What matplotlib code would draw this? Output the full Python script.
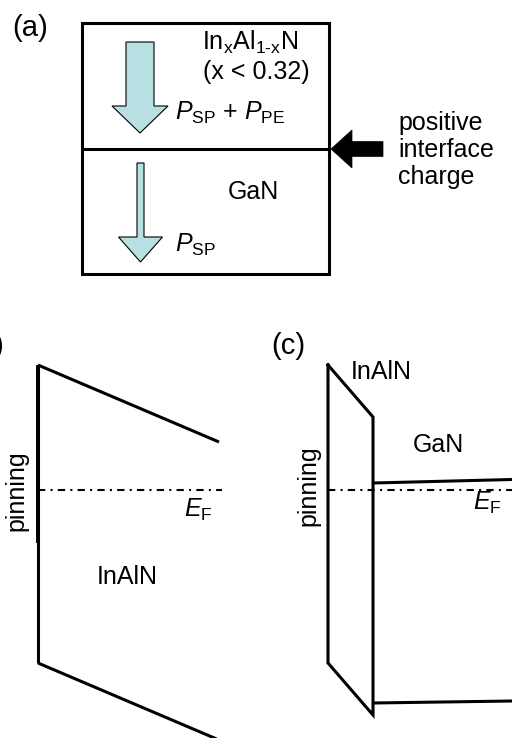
import matplotlib
matplotlib.use('Agg')
import matplotlib.pyplot as plt
from matplotlib.patches import Polygon, Rectangle

plt.rcParams['font.family'] = ['Liberation Sans', 'DejaVu Sans']
plt.rcParams['mathtext.fontset'] = 'custom'
plt.rcParams['mathtext.rm'] = 'Liberation Sans'
plt.rcParams['mathtext.it'] = 'Liberation Sans:italic'

# all positions in pixels of the 512x738 picture (y down)
# panel (a): layer stack
box_a = [82, 23, 329, 274]          # left, top, right, bottom
interface_y = 149
arrow_big = dict(x=140, top=42, shaft=28, head=56, head_y=106, tip=133)
arrow_small = dict(x=140.5, top=163, shaft=7, head=44, head_y=237, tip=262)
charge_arrow = dict(tip=331, neck=352, tail=383, y=149, shaft=15, head=38)

# panel (b): band diagram of InAlN surface
b_left_x = 38
b_cb = ([38, 219], [365, 442])
b_vb = ([38, 219], [663, 740])
b_wall = ([38, 38], [365, 663])
b_ef = ([38, 222], [490, 490])

# panel (c): InAlN/GaN
c_barrier_x = ([328, 328, 373, 373, 328], [365, 663, 715, 417, 365])
c_cb = ([373, 512], [483, 479.5])
c_vb = ([373, 512], [703, 701])
c_ef = ([328, 512], [490, 490])

fig = plt.figure(figsize=(5.12, 7.38), dpi=100)
ax = fig.add_axes([0, 0, 1, 1])
ax.set_xlim(0, 512)
ax.set_ylim(738, 0)
ax.axis('off')

lw = 2.2
fs = 18
fs_lab = 21
fill = '#b8e0e3'

# (a)
ax.add_patch(Rectangle((box_a[0], box_a[1]), box_a[2] - box_a[0], box_a[3] - box_a[1],
                       fill=False, lw=lw, ec='black'))
ax.plot([box_a[0], box_a[2]], [interface_y, interface_y], color='black', lw=lw)


def down_arrow(a):
    x, s, h = a['x'], a['shaft'] / 2, a['head'] / 2
    pts = [(x - s, a['top']), (x + s, a['top']), (x + s, a['head_y']), (x + h, a['head_y']),
           (x, a['tip']), (x - h, a['head_y']), (x - s, a['head_y'])]
    ax.add_patch(Polygon(pts, closed=True, fc=fill, ec='black', lw=0.8))


down_arrow(arrow_big)
down_arrow(arrow_small)

c = charge_arrow
pts = [(c['tip'], c['y']), (c['neck'], c['y'] - c['head'] / 2), (c['neck'], c['y'] - c['shaft'] / 2),
       (c['tail'], c['y'] - c['shaft'] / 2), (c['tail'], c['y'] + c['shaft'] / 2),
       (c['neck'], c['y'] + c['shaft'] / 2), (c['neck'], c['y'] + c['head'] / 2)]
ax.add_patch(Polygon(pts, closed=True, fc='black', ec='black', lw=0.5))

ax.text(12, 28, '(a)', fontsize=fs_lab, va='center', ha='left')
ax.text(250, 42, r'In$_{\mathrm{x}}$Al$_{\mathrm{1\text{-}x}}$N', fontsize=fs, va='center', ha='center')
ax.text(256, 72, '(x < 0.32)', fontsize=fs, va='center', ha='center')
ax.text(175, 113, r'$P_{\mathrm{SP}}$ + $P_{\mathrm{PE}}$', fontsize=fs, va='center', ha='left')
ax.text(253, 192, 'GaN', fontsize=fs, va='center', ha='center')
ax.text(175, 245, r'$P_{\mathrm{SP}}$', fontsize=fs, va='center', ha='left')
ax.text(398, 150, 'positive\ninterface\ncharge', fontsize=fs, va='center', ha='left',
        linespacing=1.15)

# (b)
ax.text(4, 346, '(b)', fontsize=fs_lab, va='center', ha='right')
ax.plot(*b_cb, color='black', lw=lw, solid_capstyle='butt')
ax.plot(*b_vb, color='black', lw=lw, solid_capstyle='butt')
ax.plot([b_left_x, b_left_x], [365, 543], color='black', lw=lw + 0.6, solid_capstyle='butt')
ax.plot(*b_wall, color='black', lw=lw, solid_capstyle='butt')
ax.plot(*b_ef, color='black', lw=1.5, ls=(0, (3.5, 2.5, 1, 2.5)))
ax.text(198, 510, r'$E_{\mathrm{F}}$', fontsize=fs, va='center', ha='center')
ax.text(16, 491, 'pinning', fontsize=fs, va='center', ha='center', rotation=90)
ax.text(127, 577, 'InAlN', fontsize=fs, va='center', ha='center')

# (c)
ax.text(288, 346, '(c)', fontsize=fs_lab, va='center', ha='center')
ax.plot(*c_barrier_x, color='black', lw=lw, solid_joinstyle='miter')
ax.plot(*c_cb, color='black', lw=lw, solid_capstyle='butt')
ax.plot(*c_vb, color='black', lw=lw, solid_capstyle='butt')
ax.plot(*c_ef, color='black', lw=1.5, ls=(0, (3.5, 2.5, 1, 2.5)))
ax.text(487, 503, r'$E_{\mathrm{F}}$', fontsize=fs, va='center', ha='center')
ax.text(308, 486, 'pinning', fontsize=fs, va='center', ha='center', rotation=90)
ax.text(381, 372, 'InAlN', fontsize=fs, va='center', ha='center')
ax.text(438, 445, 'GaN', fontsize=fs, va='center', ha='center')

fig.savefig('out.png', dpi=100)
